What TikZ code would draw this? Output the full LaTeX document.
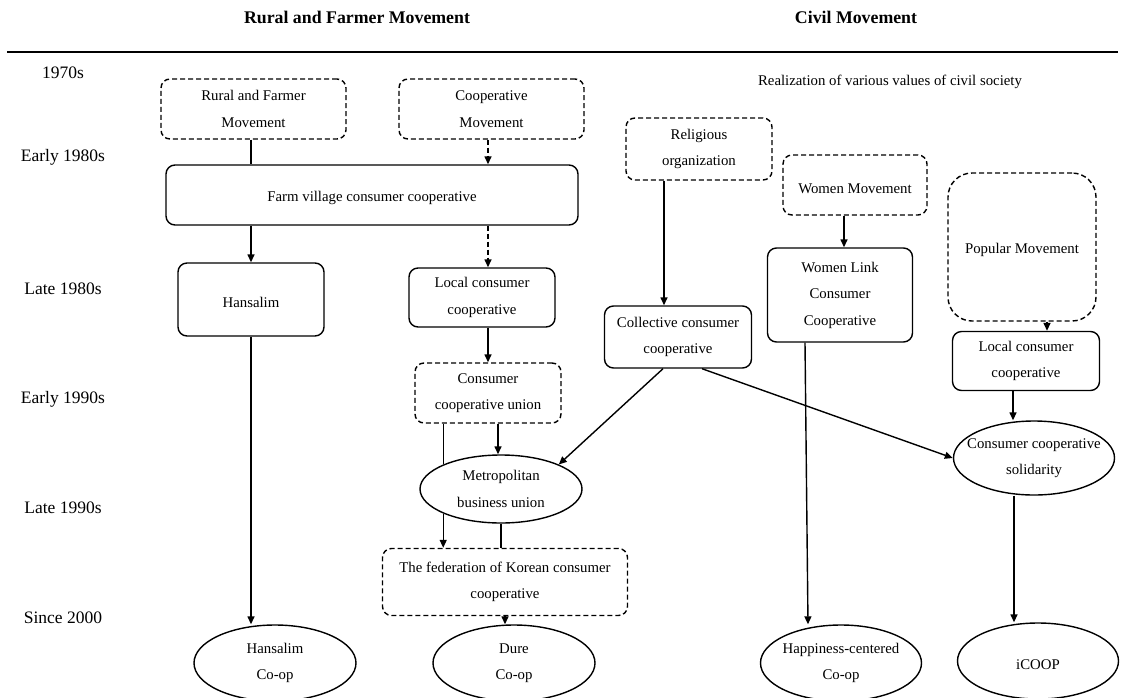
\documentclass[tikz,border=0pt]{standalone}
\usepackage{fontspec}
\setmainfont{Liberation Serif}
\usetikzlibrary{arrows.meta,shapes.geometric}
\begin{document}
\begin{tikzpicture}[x=1pt,y=-1pt,
  every node/.style={font=\fontsize{14.8}{26.5}\selectfont, align=center, inner sep=0pt},
  lower/.style={execute at begin node={\rule{0pt}{17pt}}},
  box/.style={draw, rounded corners=9pt, line width=1.4pt, lower},
  dbox/.style={box, dash pattern=on 5pt off 3pt},
  oval/.style={draw, ellipse, line width=1.4pt, inner xsep=-14pt, lower},
  lbl/.style={font=\fontsize{17.5}{21}\selectfont},
  ttl/.style={font=\fontsize{17.8}{21}\bfseries\selectfont},
  ln/.style={line width=1.4pt},
  arr/.style={ln, -{Triangle[length=8pt,width=7pt]}},
  darr/.style={arr, dash pattern=on 5pt off 3pt}]
\useasboundingbox (0,0) rectangle (1127,697);
\clip (0,0) rectangle (1127,697);
% titles and rule
\node[ttl] (t1) at (357,17) {Rural and Farmer Movement};
\node[ttl] (t2) at (856,17) {Civil Movement};
\coordinate (rl) at (7,52);
\coordinate (rr) at (1118,52);
\draw[line width=1.2pt] (rl) -- (rr);
% period labels
\node[lbl] (p1) at (63,73) {1970s};
\node[lbl] (p2) at (63,157) {Early 1980s};
\node[lbl] (p3) at (63,289) {Late 1980s};
\node[lbl] (p4) at (63,399) {Early 1990s};
\node[lbl] (p5) at (63,508) {Late 1990s};
\node[lbl] (p6) at (63,618) {Since 2000};
\node (civ) at (890,82) {Realization of various values of civil society};
% left side
\node[dbox, minimum width=185pt, minimum height=60pt] (rfm) at (253.5,109) {Rural and Farmer\\Movement};
\node[dbox, minimum width=185pt, minimum height=60pt] (cm) at (491.5,109) {Cooperative\\Movement};
\node[box, minimum width=412pt, minimum height=60pt] (farm) at (372,195) {Farm village consumer cooperative};
\node[box, minimum width=146pt, minimum height=73pt] (hans) at (251,299.5) {Hansalim};
\node[box, minimum width=146pt, minimum height=59pt] (loc1) at (482,297.5) {Local consumer\\cooperative};
\node[dbox, minimum width=146pt, minimum height=60pt] (ccu) at (488,393) {Consumer\\cooperative union};
\node[oval, minimum width=162pt, minimum height=68pt] (metro) at (501,489) {Metropolitan\\business union};
\node[dbox, minimum width=245pt, minimum height=67pt] (fed) at (505,582) {The federation of Korean consumer\\cooperative};
\node[oval, minimum width=162pt, minimum height=76pt] (hcoop) at (275,663) {Hansalim\\Co-op};
\node[oval, minimum width=162pt, minimum height=76pt] (dure) at (514,663) {Dure\\Co-op};
% right side
\node[dbox, minimum width=146pt, minimum height=62pt] (rel) at (699,149) {Religious\\organization};
\node[dbox, minimum width=144pt, minimum height=60pt] (wm) at (855,185) {Women Movement};
\node[box, minimum width=145pt, minimum height=94pt] (wl) at (840,295) {Women Link\\Consumer\\Cooperative};
\node[dbox, rounded corners=24pt, minimum width=148pt, minimum height=148pt] (pop) at (1022,247) {Popular Movement};
\node[box, minimum width=147pt, minimum height=62pt] (coll) at (678,337) {Collective consumer\\cooperative};
\node[box, minimum width=147pt, minimum height=59pt] (loc2) at (1026,361) {Local consumer\\cooperative};
\node[oval, minimum width=161pt, minimum height=74pt] (sol) at (1034,458) {Consumer cooperative\\solidarity};
\node[oval, minimum width=161pt, minimum height=76pt] (happy) at (841,663) {Happiness-centered\\Co-op};
\node[oval, minimum width=161pt, minimum height=76pt] (icoop) at (1038,661) {iCOOP};
% connectors left
\draw[ln] (rfm.south -| hans) -- (farm.north -| hans);
\draw[darr] (cm.south -| ccu) -- (farm.north -| ccu);
\draw[arr] (farm.south -| hans) -- (hans.north);
\draw[darr] (farm.south -| ccu) -- (loc1.north -| ccu);
\draw[arr] (loc1.south -| ccu) -- (ccu.north);
\draw[ln] (ccu.south -| metro.157.5) -- (metro.157.5);
\draw[arr] ([xshift=-3pt]ccu.south -| metro.north) -- ([xshift=-3pt]metro.north);
\draw[arr] (metro.203.7) -- (metro.203.7 |- fed.north);
\draw[ln] (metro.south) -- (metro.south |- fed.north);
\draw[arr] (fed.south) -- (fed.south |- dure.north);
\draw[arr] (hans.south) -- (hans.south |- hcoop.north);
% connectors right
\draw[arr] ([xshift=-35pt]rel.south) -- ([xshift=-35pt]rel.south |- coll.north);
\draw[arr] ([xshift=4pt]wl.north |- wm.south) -- ([xshift=4pt]wl.north);
\draw[arr] ([xshift=-35pt]wl.south) -- ([xshift=-33pt]happy.north);
\draw[arr] ([xshift=25pt]pop.south) -- ([xshift=25pt]pop.south |- loc2.north);
\draw[arr] ([xshift=-13pt]loc2.south) -- ([xshift=-13pt]loc2.south |- sol.north);
\draw[arr] ([xshift=-20pt]sol.south) -- ([xshift=-20pt]sol.south |- icoop.north);
\draw[arr] ([xshift=-15pt]coll.south) -- (metro.23.8);
\draw[arr] ([xshift=24pt]coll.south) -- (sol.west);
\end{tikzpicture}
\end{document}
